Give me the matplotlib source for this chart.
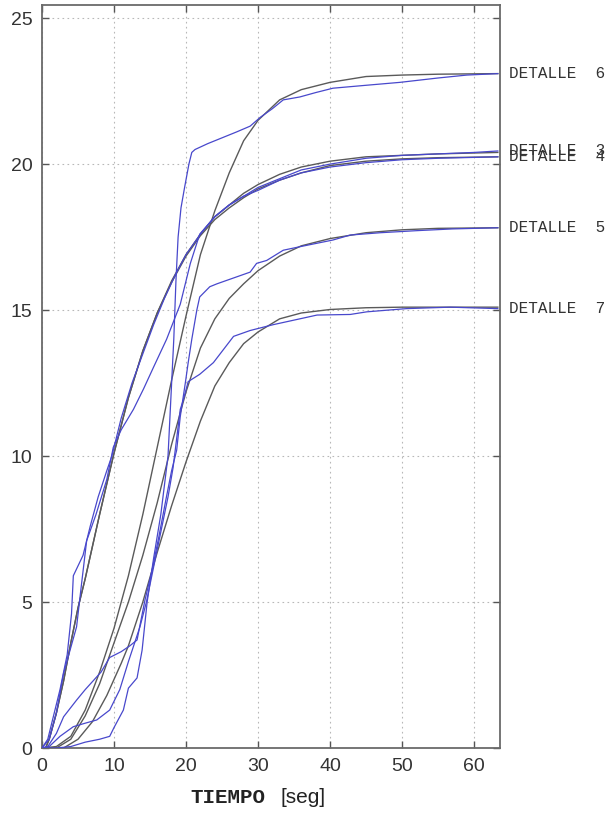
import matplotlib
matplotlib.use("Agg")
import matplotlib.pyplot as plt

# ---- data ----
# measured curves (blue)
b3_x = [0, 0.8, 2.5, 3.5, 4.1, 4.35, 5.7, 6.7, 7.8, 9, 9.7, 11, 12.5, 14, 15.5, 17, 18.5, 20, 22, 24, 26, 28, 30, 33, 36, 40, 45, 50, 55, 60, 63.3]
b3_y = [0, 0.3, 2.0, 3.2, 4.6, 5.9, 6.6, 7.6, 8.6, 9.5, 10.0, 11.3, 12.5, 13.5, 14.5, 15.4, 16.2, 16.9, 17.6, 18.2, 18.6, 18.9, 19.2, 19.5, 19.8, 20.0, 20.2, 20.3, 20.35, 20.4, 20.45]
b4_x = [0, 1, 2, 3, 4.8, 5.5, 6.2, 7.5, 9, 9.9, 11, 12.7, 14.1, 15.5, 17.3, 19.2, 20.6, 21.9, 24, 26, 28, 30, 33, 36, 40, 45, 50, 55, 63.3]
b4_y = [0, 0.3, 1.2, 2.56, 4.15, 5.64, 7.1, 8.0, 9.2, 10.3, 10.9, 11.6, 12.3, 13.05, 14.0, 15.2, 16.6, 17.6, 18.2, 18.6, 18.9, 19.1, 19.45, 19.7, 19.9, 20.05, 20.15, 20.2, 20.25]
b5_x = [0, 0.8, 2, 3, 4.8, 6, 7.1, 8.2, 9.4, 11, 12.2, 13.2, 14.3, 15.2, 16.2, 17.2, 18.0, 18.7, 19.2, 19.9, 20.3, 20.8, 21.5, 21.9, 23.3, 24.3, 26.6, 28.9, 29.8, 31.2, 33.5, 35.8, 40.4, 42.8, 47, 52, 57, 63.3]
b5_y = [0, 0.05, 0.5, 1.07, 1.64, 2.0, 2.3, 2.6, 3.1, 3.3, 3.5, 3.7, 5.07, 6.0, 7.2, 8.5, 9.5, 10.2, 11.35, 12.5, 13.2, 14.0, 15.0, 15.45, 15.8, 15.9, 16.1, 16.3, 16.6, 16.7, 17.05, 17.17, 17.4, 17.57, 17.65, 17.72, 17.78, 17.82]
b6_x = [0, 2, 4, 6, 8, 9.4, 10, 11.3, 12, 13.2, 13.9, 14.6, 15.5, 16.5, 17.5, 17.9, 18.3, 18.6, 18.9, 19.3, 19.8, 20.4, 20.8, 21.25, 23, 25, 27, 28.9, 30.3, 32, 33.5, 35.8, 38, 40.4, 45, 49.7, 55, 59, 63.3]
b6_y = [0, 0, 0.05, 0.2, 0.3, 0.4, 0.7, 1.3, 2.05, 2.4, 3.35, 5.0, 6.5, 8.0, 10.0, 12.0, 14.0, 16.0, 17.5, 18.5, 19.2, 20.0, 20.4, 20.5, 20.7, 20.9, 21.1, 21.3, 21.6, 21.9, 22.2, 22.3, 22.45, 22.6, 22.7, 22.8, 22.95, 23.05, 23.1]
b7_x = [0, 1, 2.5, 4.35, 6, 7.6, 9.4, 10.8, 12, 13.6, 14.5, 15.5, 16.5, 17.5, 18.2, 18.5, 19.2, 19.6, 20.3, 21.9, 23.8, 26.6, 28.9, 32.1, 35.8, 38.2, 42.8, 45.1, 50.6, 56.7, 63.3]
b7_y = [0, 0.05, 0.4, 0.73, 0.85, 0.96, 1.3, 2.0, 2.96, 4.15, 5.0, 6.2, 7.4, 8.6, 9.6, 10.2, 11.6, 11.9, 12.55, 12.8, 13.2, 14.1, 14.3, 14.5, 14.7, 14.83, 14.85, 14.94, 15.05, 15.1, 15.05]

# fitted curves (gray)
g3_x = [0, 0.5, 1, 2, 3, 4, 5, 6, 8, 10, 12, 14, 16, 18, 20, 22, 24, 26, 28, 30, 33, 36, 40, 45, 50, 55, 63.3]
g3_y = [0, 0, 0.3, 1.2, 2.3, 3.6, 4.8, 5.8, 8.0, 10.1, 12.0, 13.6, 14.9, 16.0, 16.9, 17.6, 18.2, 18.6, 19.0, 19.3, 19.65, 19.9, 20.1, 20.25, 20.3, 20.35, 20.4]
g4_x = [0, 0.5, 1, 2, 3, 4, 5, 6, 8, 10, 12, 14, 16, 18, 20, 22, 24, 26, 28, 30, 33, 36, 40, 45, 50, 55, 63.3]
g4_y = [0, 0, 0.3, 1.2, 2.3, 3.6, 4.8, 5.8, 8.0, 10.1, 12.0, 13.6, 14.9, 15.95, 16.85, 17.55, 18.1, 18.5, 18.85, 19.15, 19.45, 19.7, 19.95, 20.1, 20.18, 20.22, 20.25]
g5_x = [0, 2, 4, 6, 8, 10, 12, 14, 16, 18, 20, 22, 24, 26, 28, 30, 33, 36, 40, 45, 50, 55, 63.3]
g5_y = [0, 0, 0.3, 1.1, 2.2, 3.6, 5.0, 6.6, 8.4, 10.4, 12.2, 13.7, 14.7, 15.4, 15.9, 16.35, 16.85, 17.2, 17.45, 17.65, 17.75, 17.8, 17.82]
g6_x = [0, 2, 4, 6, 8, 10, 11, 12, 14, 16, 18, 20, 22, 24, 26, 28, 30, 33, 36, 40, 45, 50, 55, 63.3]
g6_y = [0, 0.05, 0.4, 1.3, 2.6, 4.1, 5.0, 5.9, 8.0, 10.3, 12.6, 14.8, 16.9, 18.4, 19.7, 20.8, 21.5, 22.2, 22.55, 22.8, 23.0, 23.05, 23.08, 23.1]
g7_x = [0, 3, 5, 7, 9, 11, 12, 14, 16, 18, 20, 22, 24, 26, 28, 30, 33, 36, 40, 45, 50, 63.3]
g7_y = [0, 0, 0.3, 0.9, 1.8, 2.9, 3.5, 5.0, 6.7, 8.3, 9.8, 11.2, 12.4, 13.2, 13.85, 14.25, 14.7, 14.9, 15.02, 15.08, 15.1, 15.1]

labels = ["DETALLE  6", "DETALLE  3", "DETALLE  4", "DETALLE  5", "DETALLE  7"]
x_ticks = [0, 10, 20, 30, 40, 50, 60]
y_ticks = [0, 5, 10, 15, 20, 25]

measured = [(b6_x, b6_y), (b3_x, b3_y), (b4_x, b4_y), (b5_x, b5_y), (b7_x, b7_y)]
fitted = [(g6_x, g6_y), (g3_x, g3_y), (g4_x, g4_y), (g5_x, g5_y), (g7_x, g7_y)]

# ---- figure ----
fig = plt.figure(figsize=(6.15, 8.21), dpi=100)
ax = fig.add_axes([42/615, 1-748/821, (500-42)/615, (748-5)/821])

blue = "#4848cc"
gray = "#5a5a5a"
for (fx, fy) in fitted:
    ax.plot(fx, fy, color=gray, lw=1.0, zorder=3)
for (mx, my) in measured:
    ax.plot(mx, my, color=blue, lw=0.9, zorder=4)

ax.set_xlim(0, 63.6)
ax.set_ylim(0, 25.45)
ax.set_xticks(x_ticks)
ax.set_yticks(y_ticks)
ax.tick_params(direction="in", length=5, width=1, colors="#555555",
               top=True, right=True, labelsize=14, labelcolor="#333333", pad=7)
for lab in ax.get_xticklabels() + ax.get_yticklabels():
    lab.set_fontfamily("Liberation Sans")
ax.grid(True, linestyle=(0, (1.5, 3)), color="#b8b8b8", lw=0.8)
for s in ax.spines.values():
    s.set_color("#6a6a6a")
    s.set_linewidth(1.3)

for lab, (mx, my) in zip(labels, measured):
    ax.text(64.85, my[-1], lab, fontsize=11.5, family="Liberation Mono",
            color="#333333", va="center", ha="left", clip_on=False)

fig.text(265/615, 1-797/821, "TIEMPO", fontsize=15, family="Liberation Mono",
         weight="bold", color="#222222", ha="right", va="center")
fig.text(280/615, 1-797/821, "[seg]", fontsize=15, family="Liberation Sans",
         color="#222222", ha="left", va="center")

fig.savefig("out.png", dpi=100)
